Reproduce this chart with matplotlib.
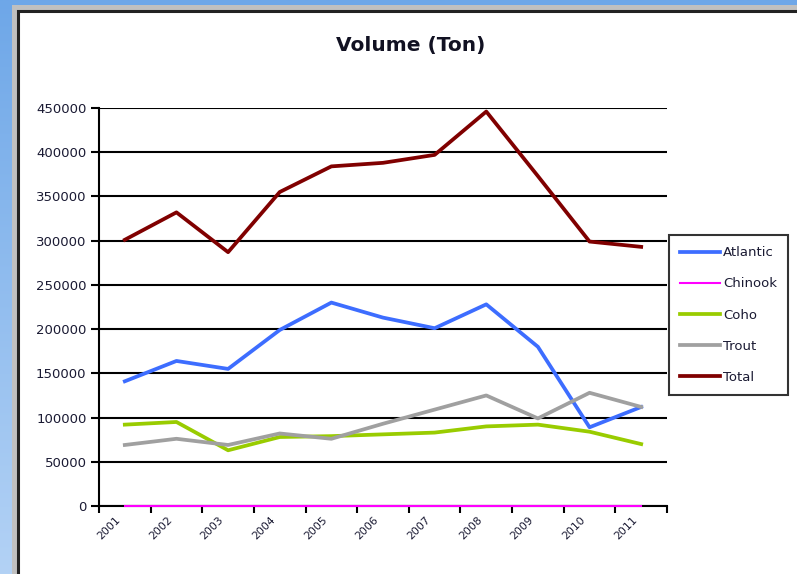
import numpy as np
import matplotlib
matplotlib.use("Agg")
import matplotlib.pyplot as plt
import matplotlib.transforms as mtransforms
from matplotlib.patches import Rectangle
from matplotlib.ticker import FixedLocator, NullFormatter

# -----------------------------
# data
# -----------------------------
years = ["2001", "2002", "2003", "2004", "2005", "2006",
         "2007", "2008", "2009", "2010", "2011"]
atlantic = [141000, 164000, 155000, 199000, 230000, 213000,
            201000, 228000, 180000, 89000, 112000]
chinook = [0, 0, 0, 0, 0, 0, 0, 0, 0, 0, 0]
coho = [92000, 95000, 63000, 78000, 79000, 81000,
        83000, 90000, 92000, 84000, 70000]
trout = [69000, 76000, 69000, 82000, 76000, 93000,
         109000, 125000, 99000, 128000, 112000]
total = [301000, 332000, 287000, 355000, 384000, 388000,
         397000, 446000, 373000, 299000, 293000]

y_ticks = list(range(0, 450001, 50000))

W, H = 797, 574


def px(x0, y0, x1, y1):
    # pixel box (top-left origin) -> figure fraction rect
    return (x0 / W, 1 - y1 / H, (x1 - x0) / W, (y1 - y0) / H)


fig = plt.figure(figsize=(W / 100, H / 100), dpi=100)

# screenshot background: blue window gradient, grey frame, white chart area
bg = fig.add_axes([0, 0, 1, 1], zorder=-10)
grad = np.linspace(0, 1, 256).reshape(-1, 1)
cmap = matplotlib.colors.LinearSegmentedColormap.from_list("bg", ["#6ea7e8", "#b3d2f5"])
bg.imshow(grad, aspect="auto", cmap=cmap, extent=[0, 1, 0, 1])
bg.set_axis_off()

r = px(12, 5, 900, 700)
fig.add_artist(Rectangle(r[:2], *r[2:], transform=fig.transFigure,
                         facecolor="#c0c0c0", edgecolor="none", zorder=-9))
r = px(17.5, 10.5, 900, 700)
fig.add_artist(Rectangle(r[:2], *r[2:], transform=fig.transFigure,
                         facecolor="white", edgecolor="#222222",
                         linewidth=2.2, zorder=-8))

ax = fig.add_axes(px(99, 108, 667, 506))
ax.patch.set_alpha(0)

x = np.arange(len(years))
ax.plot(x, atlantic, color="#3d6dff", lw=2.7, label="Atlantic", zorder=3)
ax.plot(x, chinook, color="#ff00ff", lw=1.5, label="Chinook", zorder=5,
        clip_on=False)
ax.plot(x, coho, color="#99cc00", lw=2.7, label="Coho", zorder=3)
ax.plot(x, trout, color="#a0a0a0", lw=2.7, label="Trout", zorder=3)
ax.plot(x, total, color="#800000", lw=2.7, label="Total", zorder=3)

ax.set_xlim(-0.5, len(years) - 0.5)
ax.set_ylim(0, 450000)

ax.set_yticks(y_ticks)
ax.set_yticklabels([str(v) for v in y_ticks], fontsize=9.5, color="#1a1a33")
ax.yaxis.grid(True, color="black", lw=1.5)
ax.set_axisbelow(True)

# ticks between categories, labels at category centres
ax.xaxis.set_major_locator(FixedLocator(np.arange(-0.5, len(years), 1.0)))
ax.xaxis.set_major_formatter(NullFormatter())
ax.set_xticks(x, minor=True)
ax.set_xticklabels(years, minor=True, rotation=45, ha="right", va="center",
                   rotation_mode="anchor", fontsize=7.8, color="#1a1a33")
ax.tick_params(axis="x", which="minor", length=0, pad=9)
ax.tick_params(axis="x", which="major", length=5, width=1.5, direction="out")
ax.tick_params(axis="y", length=6, width=1.5, direction="out", pad=3)

off = mtransforms.ScaledTranslation(-6 / 100, 0, fig.dpi_scale_trans)
for lbl in ax.get_xticklabels(minor=True):
    lbl.set_transform(lbl.get_transform() + off)

for side in ["top", "right"]:
    ax.spines[side].set_visible(False)
for side in ["left", "bottom"]:
    ax.spines[side].set_color("black")
    ax.spines[side].set_linewidth(1.5)

fig.text(411 / W, 1 - 46 / H, "Volume (Ton)", ha="center", va="center",
         fontsize=14.5, fontweight="bold", color="#111122")

leg = ax.legend(loc="upper left", bbox_to_anchor=(669 / W, 1 - 235 / H),
                bbox_transform=fig.transFigure, fontsize=9.5, frameon=True,
                fancybox=False, edgecolor="black", borderpad=0.85,
                labelspacing=1.38, handlelength=3.0, handletextpad=0.25,
                borderaxespad=0)
leg.get_frame().set_linewidth(1.5)
for t in leg.get_texts():
    t.set_color("#1a1a33")

fig.savefig("out.png", dpi=100)
